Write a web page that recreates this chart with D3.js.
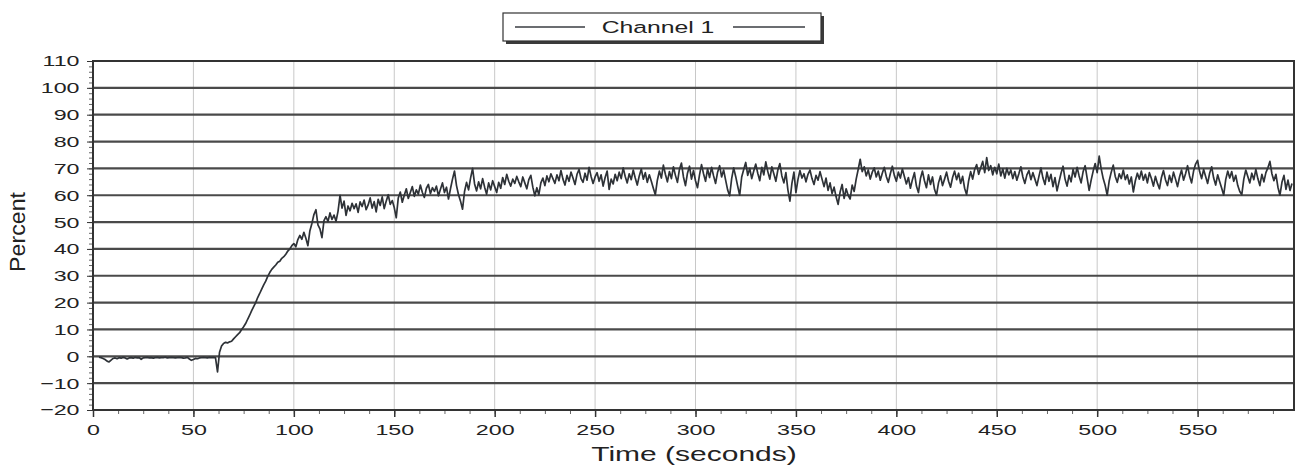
<!DOCTYPE html>
<html>
<head>
<meta charset="utf-8">
<script src="https://cdn.jsdelivr.net/npm/d3@7"></script>
<style>
  body { margin: 0; background: #fff; }
  text { font-family: "Liberation Sans", Arial, sans-serif; fill: #222; }
</style>
</head>
<body>
<svg id="chart" width="1304" height="470"></svg>
<script>
// Recorder output: one channel, sampled once per second
const seriesName = "Channel 1";
const xLabel = "Time (seconds)";
const yLabel = "Percent";
const xTickValues = [0, 50, 100, 150, 200, 250, 300, 350, 400, 450, 500, 550];
const yTickValues = [-20, -10, 0, 10, 20, 30, 40, 50, 60, 70, 80, 90, 100, 110];
const sampleStart = 3;   // seconds
const samplePeriod = 1;  // seconds
const percent = [
  -0.3,-0.5,-0.8,-1.2,-1.8,-2.1,-1.4,-0.8,-0.6,-0.9,
  -0.5,-0.7,-0.4,-0.6,-1.0,-0.6,-0.5,-0.7,-0.4,-0.6,
  -0.5,-1.1,-0.6,-0.5,-0.4,-0.6,-0.5,-0.7,-0.5,-0.4,
  -0.6,-0.5,-0.5,-0.3,-0.6,-0.5,-0.4,-0.5,-0.6,-0.5,
  -0.4,-0.5,-0.7,-0.6,-0.4,-1.0,-1.5,-1.2,-0.8,-0.9,
  -0.6,-0.5,-0.4,-0.5,-0.6,-0.4,-0.5,-0.4,-0.6,-5.8,
  1.5,3.8,4.8,5.2,5.0,5.4,5.6,6.5,7.3,8.1,
  8.8,10.0,11.0,12.2,13.8,15.3,17.0,18.5,20.0,21.9,
  23.4,25.0,26.6,28.0,29.8,31.2,32.4,33.2,34.0,35.0,
  35.4,36.5,37.1,38.0,39.2,40.0,41.2,42.0,40.8,43.5,
  45.0,43.6,46.2,44.0,41.2,46.8,49.5,52.8,54.6,49.0,
  47.5,44.2,50.5,52.0,50.2,53.4,51.0,52.6,50.3,54.0,
  60.0,55.2,57.8,52.5,56.0,54.2,57.0,55.0,56.8,53.6,
  57.5,55.8,58.2,54.6,56.4,59.0,55.2,57.6,53.8,58.5,
  56.2,59.4,55.0,57.8,60.2,56.6,58.0,55.4,51.6,59.0,
  61.2,57.4,60.0,62.4,58.8,61.0,63.2,59.6,62.0,60.4,
  63.8,61.0,59.2,62.6,64.0,60.6,62.8,61.4,63.4,59.8,
  62.2,64.6,61.0,63.0,58.6,62.4,66.0,69.0,63.6,60.2,
  57.8,54.8,61.4,64.8,62.0,66.4,70.0,64.2,61.6,65.0,
  62.4,66.2,63.0,60.4,64.6,62.0,65.4,63.2,61.0,64.8,
  62.6,66.6,64.0,67.8,65.2,63.4,66.0,64.4,67.0,65.0,
  63.2,66.8,64.6,62.4,65.8,67.4,63.0,59.8,62.8,60.2,
  64.6,66.4,63.6,67.2,65.0,68.0,66.2,64.4,67.6,65.4,
  69.2,66.0,63.8,67.4,65.2,68.6,66.4,64.0,67.8,69.6,
  66.2,64.8,68.2,65.6,70.4,67.0,64.4,66.8,68.4,65.2,
  67.6,63.4,66.6,69.0,62.2,66.0,64.2,67.8,65.4,68.6,
  66.2,70.2,67.0,64.6,68.0,65.8,69.4,66.4,63.8,67.2,
  69.8,66.0,68.4,64.8,67.6,65.2,62.6,60.2,65.6,69.0,
  66.4,71.2,67.8,65.0,68.8,66.2,70.6,67.4,64.8,69.6,
  72.0,66.8,63.6,68.2,70.8,66.0,69.2,65.4,62.8,67.6,
  71.4,68.0,65.2,69.8,66.6,70.4,67.2,64.4,68.6,71.0,
  66.8,69.4,65.6,62.0,59.8,66.2,70.2,67.0,63.4,60.0,
  66.8,69.6,72.2,67.4,70.0,66.2,69.0,71.6,68.2,65.4,
  70.4,67.6,72.4,68.8,66.0,70.6,68.0,65.2,69.4,71.8,
  67.2,64.6,68.4,62.0,57.8,64.4,68.6,61.0,65.8,69.2,
  66.4,68.0,65.0,67.8,69.4,66.2,64.0,67.4,65.6,68.8,
  66.0,63.2,66.4,61.8,64.6,60.6,63.0,59.4,56.6,61.2,
  64.0,58.8,62.4,60.0,58.6,63.8,61.4,66.0,69.6,73.4,
  68.8,70.6,67.2,69.4,66.0,68.6,70.2,66.8,69.0,65.6,
  68.2,70.4,67.0,64.8,68.0,70.8,67.4,65.2,68.6,66.4,
  69.8,67.0,64.2,66.6,62.6,65.8,68.4,63.4,61.0,66.2,
  69.0,65.4,62.8,67.6,64.0,66.8,62.2,60.0,64.6,67.2,
  63.6,66.0,68.6,65.2,63.0,66.6,69.0,65.8,68.2,64.4,
  67.0,62.6,60.2,65.4,68.8,66.0,69.6,71.4,67.8,70.2,
  72.6,68.4,74.0,69.2,71.0,67.6,70.4,68.0,71.6,67.2,
  69.8,66.4,70.0,67.6,69.4,66.2,68.8,65.6,68.0,70.6,
  66.8,64.4,67.6,69.2,65.8,68.4,66.0,63.6,67.0,70.2,
  66.4,64.0,68.6,65.2,67.8,63.2,66.6,61.6,65.0,68.2,
  70.8,66.0,63.4,67.4,65.0,69.6,66.8,70.4,67.2,64.6,
  68.8,71.0,66.4,61.8,65.6,69.0,71.8,68.4,74.6,69.8,
  66.2,63.6,60.0,65.4,68.6,71.2,67.0,64.8,68.0,66.2,
  69.4,65.8,67.6,64.2,66.8,61.2,65.4,68.2,66.0,69.0,
  65.6,67.8,64.6,68.4,66.2,63.4,67.0,64.4,62.4,66.6,
  69.2,65.8,63.6,67.4,64.8,68.6,66.0,63.2,66.8,69.4,
  65.6,68.0,71.0,67.2,64.6,69.0,71.6,73.0,68.8,66.2,
  69.6,67.0,64.4,68.2,70.6,66.4,63.8,67.6,65.0,62.6,
  60.0,65.8,69.0,66.4,68.8,65.2,67.4,63.6,61.4,60.2,
  66.0,69.4,67.0,64.6,68.2,65.8,69.6,66.2,63.6,67.8,
  65.0,68.4,70.2,72.6,68.0,65.4,67.8,63.0,60.0,64.8,
  67.4,62.2,65.6,61.8,64.4
];

const points = percent.map((v, i) => ({ t: sampleStart + i * samplePeriod, v }));

const svg = d3.select("#chart");
const plot = { left: 93, right: 1294, top: 61, bottom: 410 };
const stretch = 1.5; // horizontal scale applied to lettering

const x = d3.scaleLinear().domain([0, 598]).range([plot.left, plot.right]);
const y = d3.scaleLinear().domain([-20, 110]).range([plot.bottom, plot.top]);

// vertical grid (light)
svg.append("g").selectAll("line")
  .data(xTickValues.filter(d => d > 0))
  .join("line")
  .attr("x1", d => x(d)).attr("x2", d => x(d))
  .attr("y1", plot.top).attr("y2", plot.bottom)
  .attr("stroke", "#c8c8c8").attr("stroke-width", 1);

// horizontal grid (heavy)
svg.append("g").selectAll("line")
  .data(yTickValues.filter(d => d > -20 && d < 110))
  .join("line")
  .attr("x1", plot.left).attr("x2", plot.right)
  .attr("y1", d => y(d)).attr("y2", d => y(d))
  .attr("stroke", "#4a4a4a").attr("stroke-width", 2.2);

// minor ticks
svg.append("g")
  .attr("transform", `translate(${plot.left},0)`)
  .call(d3.axisLeft(y).tickValues(d3.range(-20, 110.01, 2)).tickSize(4).tickFormat(""))
  .call(g => g.select(".domain").remove())
  .call(g => g.selectAll("line").attr("stroke", "#666"));
svg.append("g")
  .attr("transform", `translate(0,${plot.bottom})`)
  .call(d3.axisBottom(x).tickValues(d3.range(0, 598, 12.5)).tickSize(4).tickFormat(""))
  .call(g => g.select(".domain").remove())
  .call(g => g.selectAll("line").attr("stroke", "#666"));

// main axes
const yAxis = svg.append("g")
  .attr("transform", `translate(${plot.left},0)`)
  .call(d3.axisLeft(y).tickValues(yTickValues).tickSize(6).tickPadding(3));
yAxis.select(".domain").remove();
yAxis.selectAll("line").attr("stroke", "#333");
yAxis.selectAll("text")
  .attr("font-size", 15.5).attr("fill", "#222")
  .attr("font-family", "'Liberation Sans', Arial, sans-serif")
  .attr("transform", `scale(${stretch},1)`);

const xAxis = svg.append("g")
  .attr("transform", `translate(0,${plot.bottom})`)
  .call(d3.axisBottom(x).tickValues(xTickValues).tickSize(7).tickPadding(7));
xAxis.select(".domain").remove();
xAxis.selectAll("line").attr("stroke", "#333").attr("stroke-width", 1.5);
xAxis.selectAll("text")
  .attr("font-size", 15.5).attr("fill", "#222")
  .attr("font-family", "'Liberation Sans', Arial, sans-serif")
  .attr("transform", `scale(${stretch},1)`);

// frame
svg.append("rect")
  .attr("x", plot.left).attr("y", plot.top)
  .attr("width", plot.right - plot.left).attr("height", plot.bottom - plot.top)
  .attr("fill", "none").attr("stroke", "#333").attr("stroke-width", 2);

// trace
svg.append("path")
  .datum(points)
  .attr("fill", "none")
  .attr("stroke", "#2e3237")
  .attr("stroke-width", 1.7)
  .attr("stroke-linejoin", "round")
  .attr("d", d3.line().x(d => x(d.t)).y(d => y(d.v)));

// axis titles
svg.append("text")
  .attr("transform", `translate(694,461) scale(${stretch},1)`)
  .attr("text-anchor", "middle")
  .attr("font-size", 20)
  .text(xLabel);

svg.append("text")
  .attr("transform", `translate(25,232) scale(${stretch},1) rotate(-90)`)
  .attr("text-anchor", "middle")
  .attr("font-size", 15)
  .attr("textLength", 80).attr("lengthAdjust", "spacingAndGlyphs")
  .text(yLabel);

// legend
const lg = svg.append("g").attr("transform", "translate(503,13)");
lg.append("rect").attr("x", 3).attr("y", 3).attr("width", 318).attr("height", 28).attr("fill", "#3a3a3a");
lg.append("rect").attr("width", 318).attr("height", 28).attr("fill", "#fff")
  .attr("stroke", "#333").attr("stroke-width", 1.2);
lg.append("line").attr("x1", 12).attr("x2", 82).attr("y1", 14).attr("y2", 14)
  .attr("stroke", "#3a3d42").attr("stroke-width", 1.4);
lg.append("line").attr("x1", 230).attr("x2", 302).attr("y1", 14).attr("y2", 14)
  .attr("stroke", "#3a3d42").attr("stroke-width", 1.4);
lg.append("text")
  .attr("transform", `translate(155,20) scale(${stretch},1)`)
  .attr("text-anchor", "middle")
  .attr("font-size", 16.5)
  .text(seriesName);
</script>
</body>
</html>
